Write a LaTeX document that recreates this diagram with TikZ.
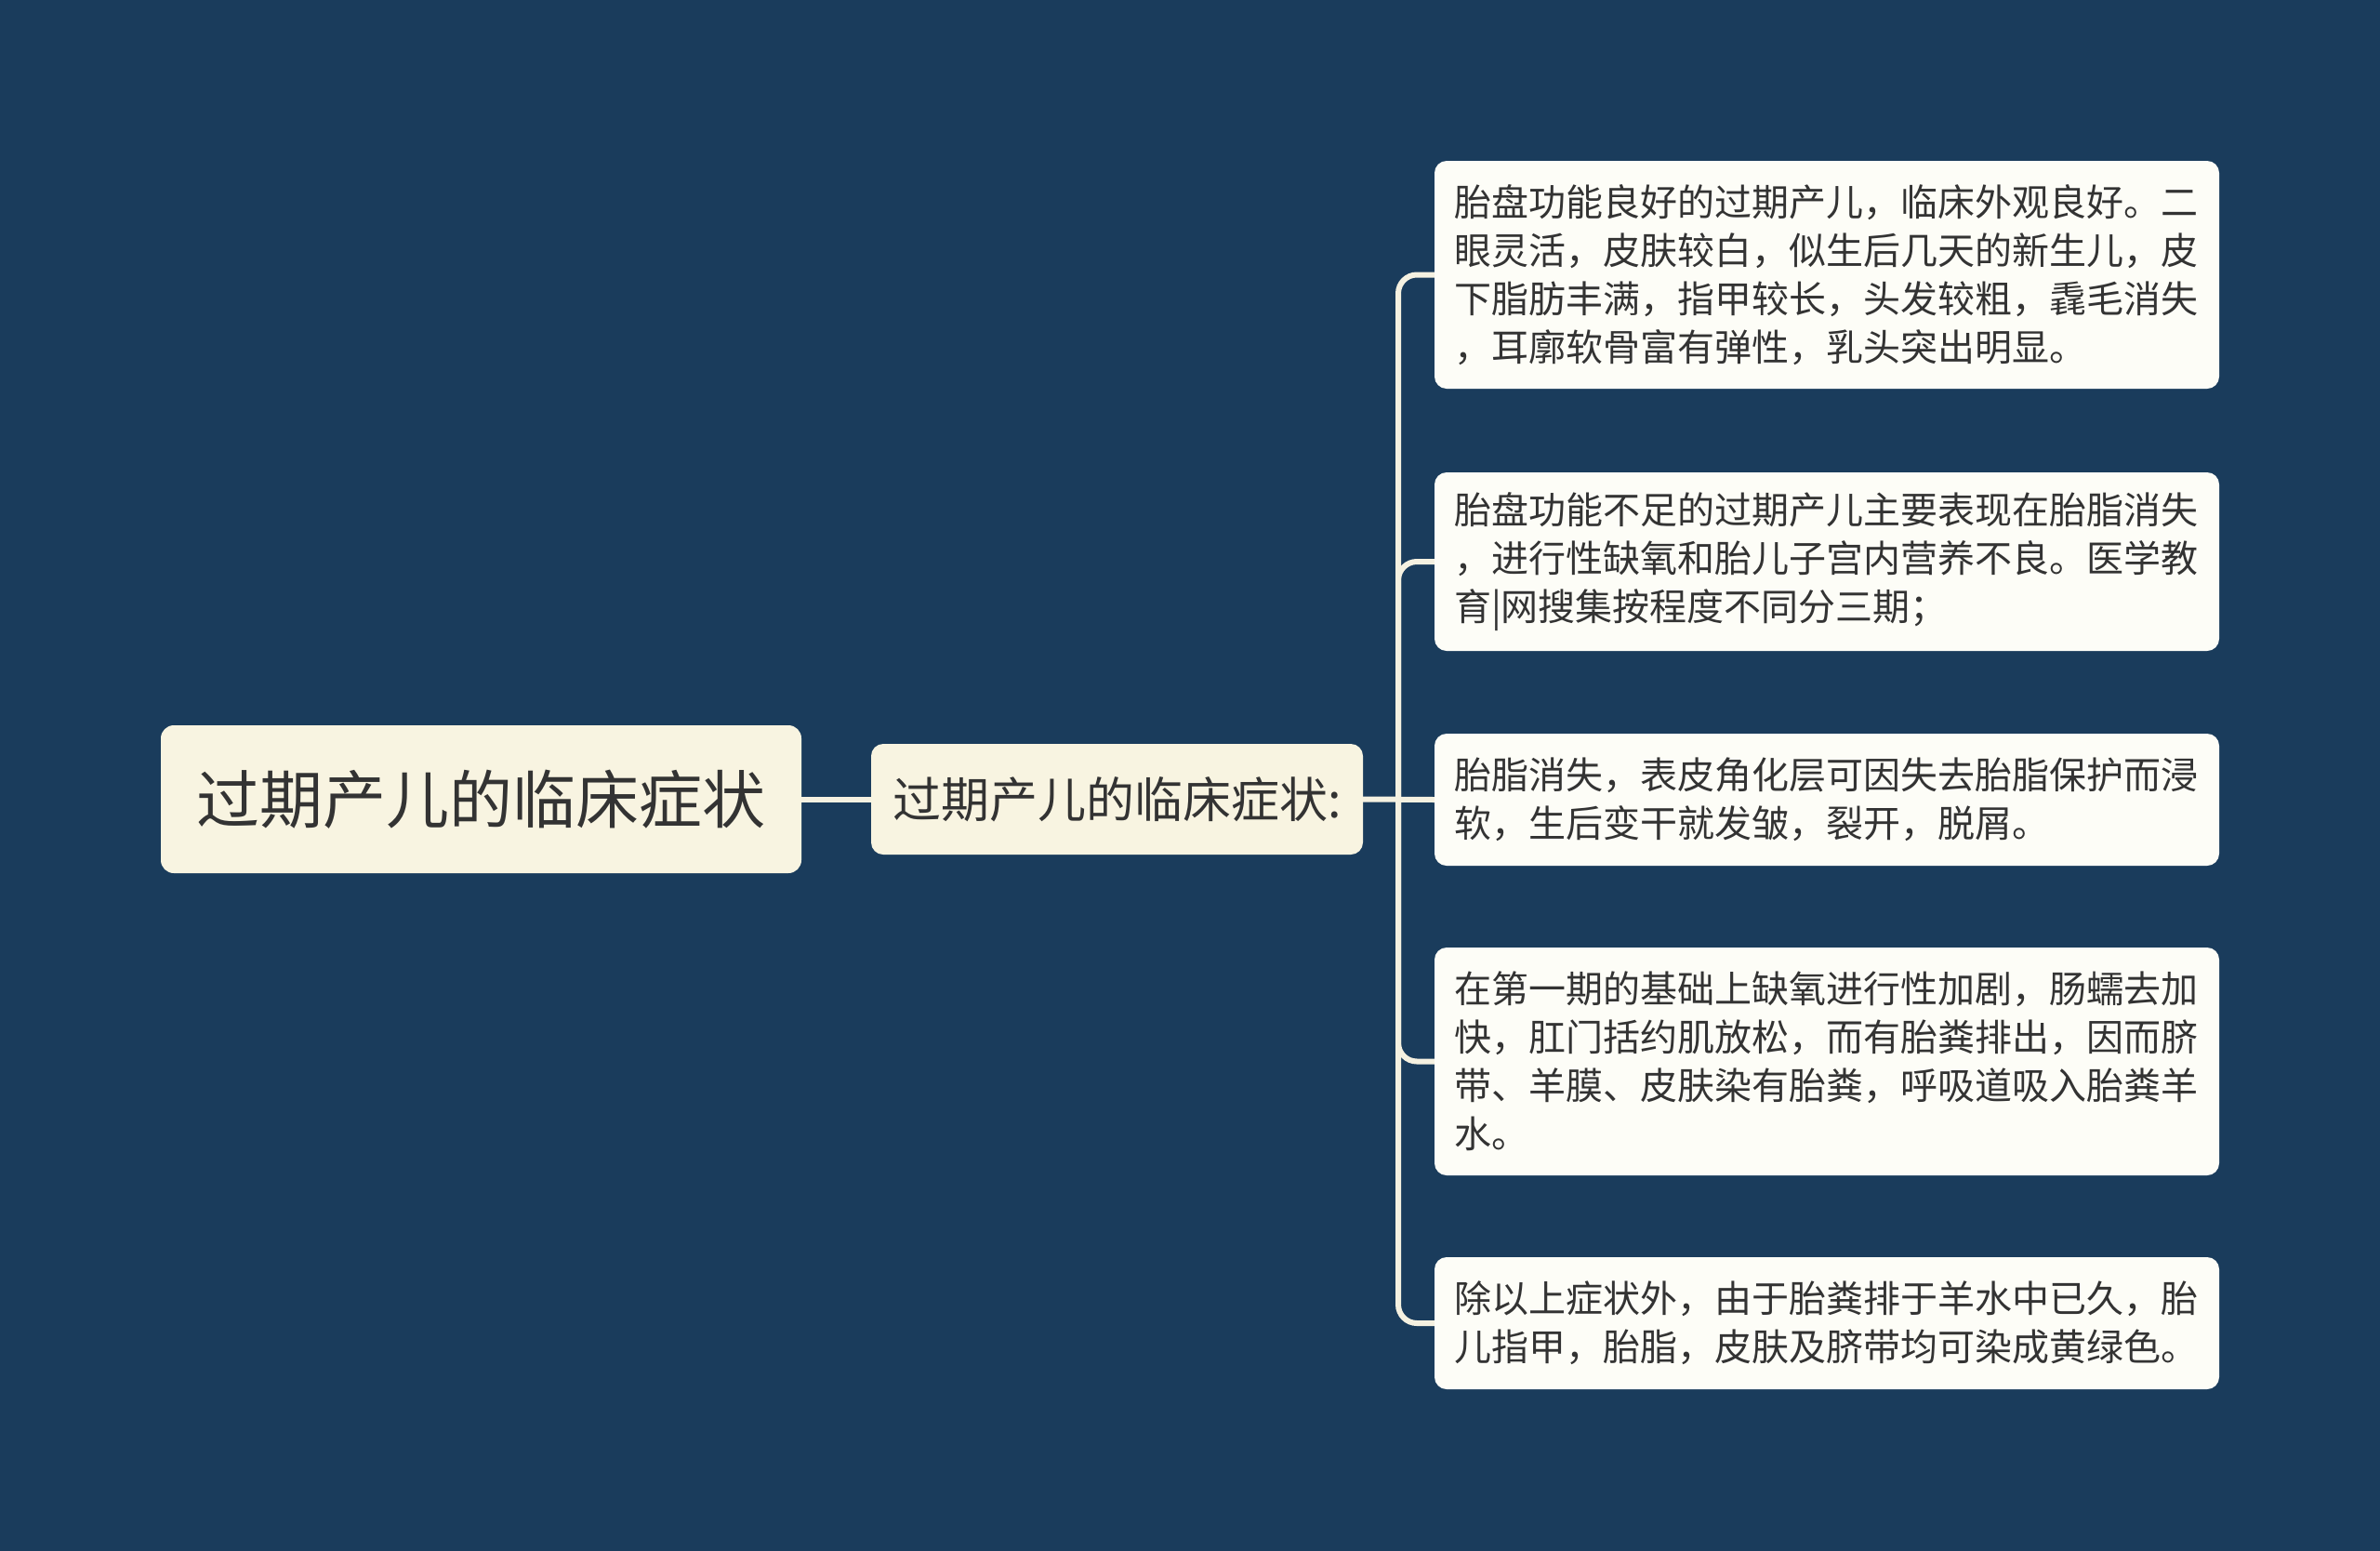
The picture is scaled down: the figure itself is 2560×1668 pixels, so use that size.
\documentclass[tikz,border=0pt]{standalone}
\usepackage{fontspec}
\setmainfont{Noto Sans CJK SC}
\usetikzlibrary{calc}
\definecolor{bgc}{HTML}{1A3C5C}
\definecolor{rootfill}{HTML}{F8F4E1}
\definecolor{leaffill}{HTML}{FDFDF7}
\definecolor{txt}{HTML}{333333}
\definecolor{linec}{HTML}{F5F1E1}
\tikzset{
  rootbox/.style={fill=rootfill, rounded corners=14pt, text=txt, inner sep=0pt,
    minimum width=689pt, minimum height=159pt, font=\fontsize{68}{80}\selectfont},
  midbox/.style={fill=rootfill, rounded corners=13pt, text=txt, inner sep=0pt,
    minimum width=529pt, minimum height=119pt, font=\fontsize{52}{62}\selectfont},
  leafbox/.style={fill=leaffill, rounded corners=13pt, text=txt, inner xsep=21pt, inner ysep=0pt,
    text width=802pt, align=left, font=\fontsize{40}{52}\selectfont},
  conn/.style={draw=linec, line width=6pt, rounded corners=20pt}
}
\begin{document}
\begin{tikzpicture}[x=1pt,y=-1pt]
\fill[bgc] (0,0) rectangle (2560,1668);
\useasboundingbox (0,0) rectangle (2560,1668);
\node[rootbox] (root) at (517.5,859.5) {过期产儿的临床症状};
\node[midbox] (mid) at (1201.5,859.5) {过期产儿的临床症状:};
\node[leafbox, minimum height=245pt] (l1) at (1965,295.5) {胎盘功能良好的过期产儿，临床外观良好。二\\眼灵活，皮肤较白，似生后几天的新生儿，皮\\下脂肪丰满，指甲较长，头发较粗，毳毛消失\\，耳廓软骨富有弹性，乳头突出明显。};
\node[leafbox, minimum height=192pt] (l2) at (1965,604) {胎盘功能不足的过期产儿主要表现在胎脂消失\\，进行性缺氧和胎儿子宫内营养不良。医学教\\育|网搜集按程度不同分三期；};
\node[leafbox, minimum height=142pt] (l3) at (1965,860) {胎脂消失，表皮角化层可因失去胎脂保护而浸\\软，生后变干就发皱，裂开，脱屑。};
\node[leafbox, minimum height=245pt] (l4) at (1965,1141.5) {在第一期的基础上缺氧进行性加剧，肠蠕去加\\快，肛门括约肌放松，而有胎粪排出，因而脐\\带、羊膜、皮肤染有胎粪，呼吸道吸入胎粪羊\\水。};
\node[leafbox, minimum height=142pt] (l5) at (1965,1423) {除以上症状外，由于胎粪排于羊水中已久，胎\\儿指甲，胎脂，皮肤及脐带均可染成黄绿色。};
\coordinate (tr) at (1504,859.5);
\draw[conn] (root.east) -- (mid.west);
\draw[conn] (mid.east) -- (l3.west);
\foreach \k in {l1,l2,l4,l5}{
  \draw[conn] (tr) |- (\k.west);
}
\end{tikzpicture}
\end{document}
